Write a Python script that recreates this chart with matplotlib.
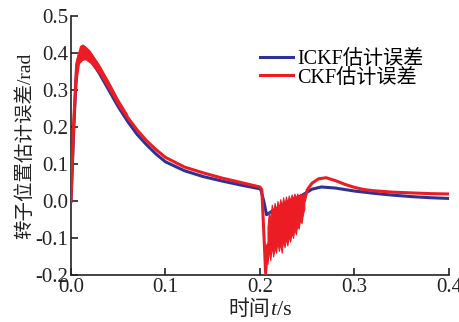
import numpy as np
import matplotlib.pyplot as plt
from matplotlib.offsetbox import TextArea, HPacker, AnchoredOffsetbox

plt.rcParams['font.family'] = ['Liberation Serif', 'Noto Sans CJK SC']
plt.rcParams['axes.unicode_minus'] = True

# ICKF estimation error (rad)
t_ickf = [0, 0.003, 0.006, 0.009, 0.012, 0.015, 0.02, 0.03, 0.04, 0.05,
          0.06, 0.07, 0.08, 0.09, 0.1, 0.12, 0.14, 0.16, 0.18, 0.2,
          0.201, 0.204, 0.207, 0.215, 0.23, 0.245, 0.255, 0.265, 0.28, 0.3,
          0.32, 0.34, 0.36, 0.38, 0.4]
e_ickf = [0, 0.2, 0.36, 0.395, 0.405, 0.4, 0.385, 0.345, 0.3, 0.255,
          0.215, 0.18, 0.152, 0.127, 0.106, 0.082, 0.066, 0.054, 0.043, 0.033,
          0.03, 0.0, -0.037, -0.024, -0.003, 0.016, 0.032, 0.038, 0.035, 0.027,
          0.021, 0.016, 0.012, 0.009, 0.007]

# CKF estimation error (rad)
t_ckf = [0, 0.003, 0.006, 0.009, 0.012, 0.015, 0.02, 0.03, 0.04, 0.05,
         0.06, 0.07, 0.08, 0.09, 0.1, 0.12, 0.14, 0.16, 0.18, 0.2,
         0.202, 0.204, 0.206, 0.208,
         0.247, 0.25, 0.255, 0.262, 0.27, 0.28, 0.29, 0.3, 0.31,
         0.32, 0.34, 0.36, 0.38, 0.4]
e_ckf = [0, 0.22, 0.37, 0.4, 0.41, 0.405, 0.392, 0.357, 0.312, 0.265,
         0.226, 0.192, 0.163, 0.139, 0.118, 0.092, 0.076, 0.062, 0.05, 0.038,
         0.03, -0.08, -0.195, -0.12,
         0.0, 0.03, 0.048, 0.06, 0.063, 0.055, 0.045, 0.037, 0.031,
         0.028, 0.024, 0.022, 0.02, 0.019]

# CKF oscillation envelope after the step at t = 0.2 s
t_osc = [0.208, 0.2095, 0.211, 0.2125, 0.214, 0.2155, 0.217, 0.2185, 0.22,
         0.2215, 0.223, 0.2245, 0.226, 0.2275, 0.229, 0.2305, 0.232, 0.2335,
         0.235, 0.2365, 0.238, 0.2395, 0.241, 0.2425, 0.244, 0.2455, 0.247]
osc_lo = [-0.17, -0.13, -0.16, -0.12, -0.15, -0.125, -0.14, -0.11, -0.135,
          -0.115, -0.14, -0.105, -0.125, -0.1, -0.12, -0.095, -0.11, -0.085,
          -0.1, -0.075, -0.09, -0.065, -0.075, -0.05, -0.06, -0.035, -0.02]
osc_hi = [-0.07, -0.03, -0.05, -0.01, -0.035, -0.005, -0.03, 0.0, -0.02,
          0.005, -0.015, 0.01, -0.01, 0.012, -0.005, 0.015, 0.0, 0.018,
          0.005, 0.02, 0.008, 0.02, 0.01, 0.02, 0.012, 0.02, 0.02]

# CKF noise band around the peak
t_peak = [0.005, 0.009, 0.012, 0.015, 0.02, 0.03, 0.04, 0.05, 0.06]
peak_lo = [0.3, 0.372, 0.38, 0.382, 0.373, 0.342, 0.3, 0.255, 0.218]
peak_hi = [0.38, 0.42, 0.425, 0.42, 0.408, 0.37, 0.325, 0.277, 0.235]

blue = '#2f3193'
red = '#ec1c24'
ink = '#222222'

fig = plt.figure(figsize=(4.59, 3.22), dpi=100)
ax = fig.add_axes([0.1547, 0.146, 0.8233, 0.804])

ax.plot(t_ickf, e_ickf, color=blue, lw=2.2, label='ICKF估计误差', zorder=2)
ax.plot(t_ckf, e_ckf, color=red, lw=2.2, label='CKF估计误差', zorder=3)
ax.fill_between(t_osc, osc_lo, osc_hi, color=red, lw=0.8, zorder=3)
ax.fill_between(t_peak, peak_lo, peak_hi, color=red, lw=0, zorder=3)

ax.set_xlim(0, 0.4)
ax.set_ylim(-0.2, 0.5)
ax.set_xticks([0.0, 0.1, 0.2, 0.3, 0.4])
ax.set_yticks([-0.2, -0.1, 0.0, 0.1, 0.2, 0.3, 0.4, 0.5])
ax.xaxis.set_major_formatter(plt.FormatStrFormatter('%.1f'))
ax.yaxis.set_major_formatter(plt.FormatStrFormatter('%.1f'))
ax.tick_params(direction='in', length=5, width=1.2, labelsize=15, colors=ink, pad=2)
for side in ['top', 'right']:
    ax.spines[side].set_visible(False)
for side in ['left', 'bottom']:
    ax.spines[side].set_linewidth(1.2)
    ax.spines[side].set_color(ink)

ax.set_ylabel('转子位置估计误差/rad', fontsize=14, labelpad=1, color=ink)

# x label: CJK text, italic t, then unit
parts = [TextArea('时间', textprops=dict(fontsize=15, color=ink)),
         TextArea('t', textprops=dict(fontsize=16, color=ink, style='italic')),
         TextArea('/s', textprops=dict(fontsize=16, color=ink))]
xlab = AnchoredOffsetbox(loc='upper center', child=HPacker(children=parts, pad=0, sep=0, align='baseline'),
                         bbox_to_anchor=(0.5, -0.1), bbox_transform=ax.transAxes,
                         frameon=False, pad=0, borderpad=0)
ax.add_artist(xlab)

ax.legend(loc='upper left', bbox_to_anchor=(0.5, 0.87), frameon=False,
          prop=dict(size=14.5), handlelength=1.65, handletextpad=0.2, labelspacing=-0.02,
          borderpad=0, borderaxespad=0)

fig.savefig('out.png', dpi=100)
